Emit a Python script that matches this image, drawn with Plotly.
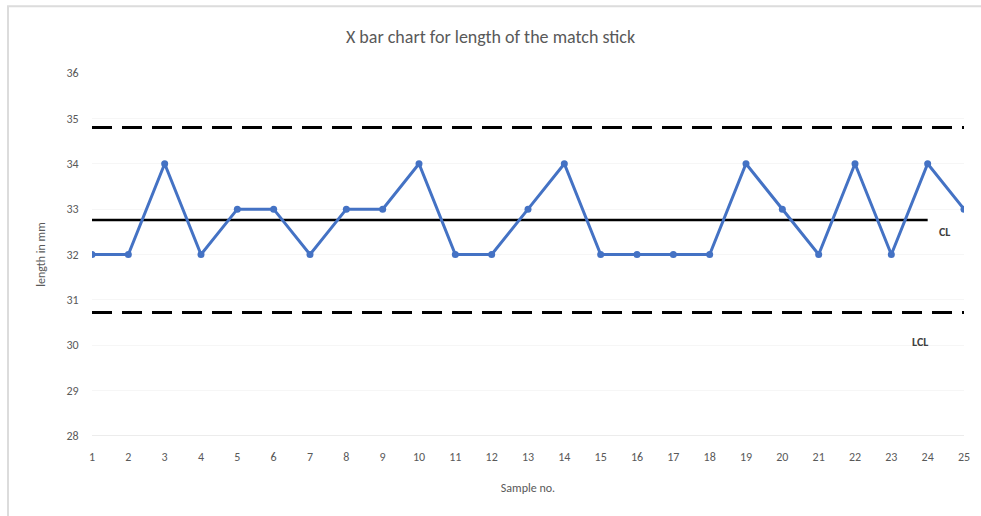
import plotly.graph_objects as go

# sample numbers and mean length of each sample
samples = list(range(1, 26))
lengths = [32, 32, 34, 32, 33, 33, 32, 33, 33, 34, 32, 32, 33,
           34, 32, 32, 32, 32, 34, 33, 32, 34, 32, 34, 33]

ucl = [34.8] * 25
cl = [32.76] * 24
lcl = [30.72] * 25

y_ticks = [28, 29, 30, 31, 32, 33, 34, 35, 36]

grey = "#595959"
font = "Calibri, Carlito, 'Liberation Sans', sans-serif"

fig = go.Figure()

fig.add_trace(go.Scatter(x=samples, y=ucl, mode="lines", name="UCL",
                         line=dict(color="black", width=3, dash="20px,10px"),
                         hoverinfo="skip"))
fig.add_trace(go.Scatter(x=samples, y=lcl, mode="lines", name="LCL",
                         line=dict(color="black", width=3, dash="20px,10px"),
                         hoverinfo="skip"))
fig.add_trace(go.Scatter(x=samples[:24], y=cl, mode="lines", name="CL",
                         line=dict(color="black", width=2.5),
                         hoverinfo="skip"))
fig.add_trace(go.Scatter(x=samples, y=lengths, mode="lines+markers", name="X bar",
                         line=dict(color="#4472C4", width=3),
                         marker=dict(size=7, color="#4472C4")))

fig.add_annotation(x=25, y=cl[0], xref="x", yref="y", text="<b>CL</b>",
                   showarrow=False, xshift=-20, yshift=-12,
                   font=dict(size=12, color="#404040"))
fig.add_annotation(x=24, y=lcl[0], xref="x", yref="y", text="<b>LCL</b>",
                   showarrow=False, xshift=-8, yshift=-29,
                   font=dict(size=12, color="#404040"))

# light frame around the chart, like the original screenshot
fig.add_shape(type="rect", xref="paper", yref="paper",
              x0=-0.0963, x1=1.05, y0=-0.3, y1=1.184,
              line=dict(color="#dcdcdc", width=2), layer="below")

fig.update_layout(
    title=dict(text="X bar chart for length of the match stick", x=0.5, xanchor="center",
               y=0.928, yanchor="middle", font=dict(size=18, color=grey, family=font)),
    width=981, height=516,
    margin=dict(l=92, r=17, t=73, b=80),
    showlegend=False,
    plot_bgcolor="white", paper_bgcolor="white",
    font=dict(family=font, color=grey, size=12),
    xaxis=dict(range=[1, 25], tickmode="array", tickvals=samples,
               showgrid=False, zeroline=False, showline=False,
               ticks="outside", ticklen=10, tickcolor="rgba(0,0,0,0)",
               tickfont=dict(size=12, color=grey),
               title=dict(text="Sample no.", font=dict(size=12, color=grey), standoff=20)),
    yaxis=dict(range=[28, 36], tickmode="array", tickvals=y_ticks,
               showgrid=True, gridcolor="#f6f6f6", gridwidth=1,
               zeroline=False, showline=False,
               ticks="outside", ticklen=10, tickcolor="rgba(0,0,0,0)",
               tickfont=dict(size=12, color=grey),
               title=dict(text="length in mm", font=dict(size=12, color=grey), standoff=18)),
)

fig.add_shape(type="line", xref="paper", yref="y", x0=0, x1=1, y0=28, y1=28,
              line=dict(color="#d9d9d9", width=1))

fig.write_html("out.html", config={"displayModeBar": False},
               post_script="document.body.style.margin='0';")
